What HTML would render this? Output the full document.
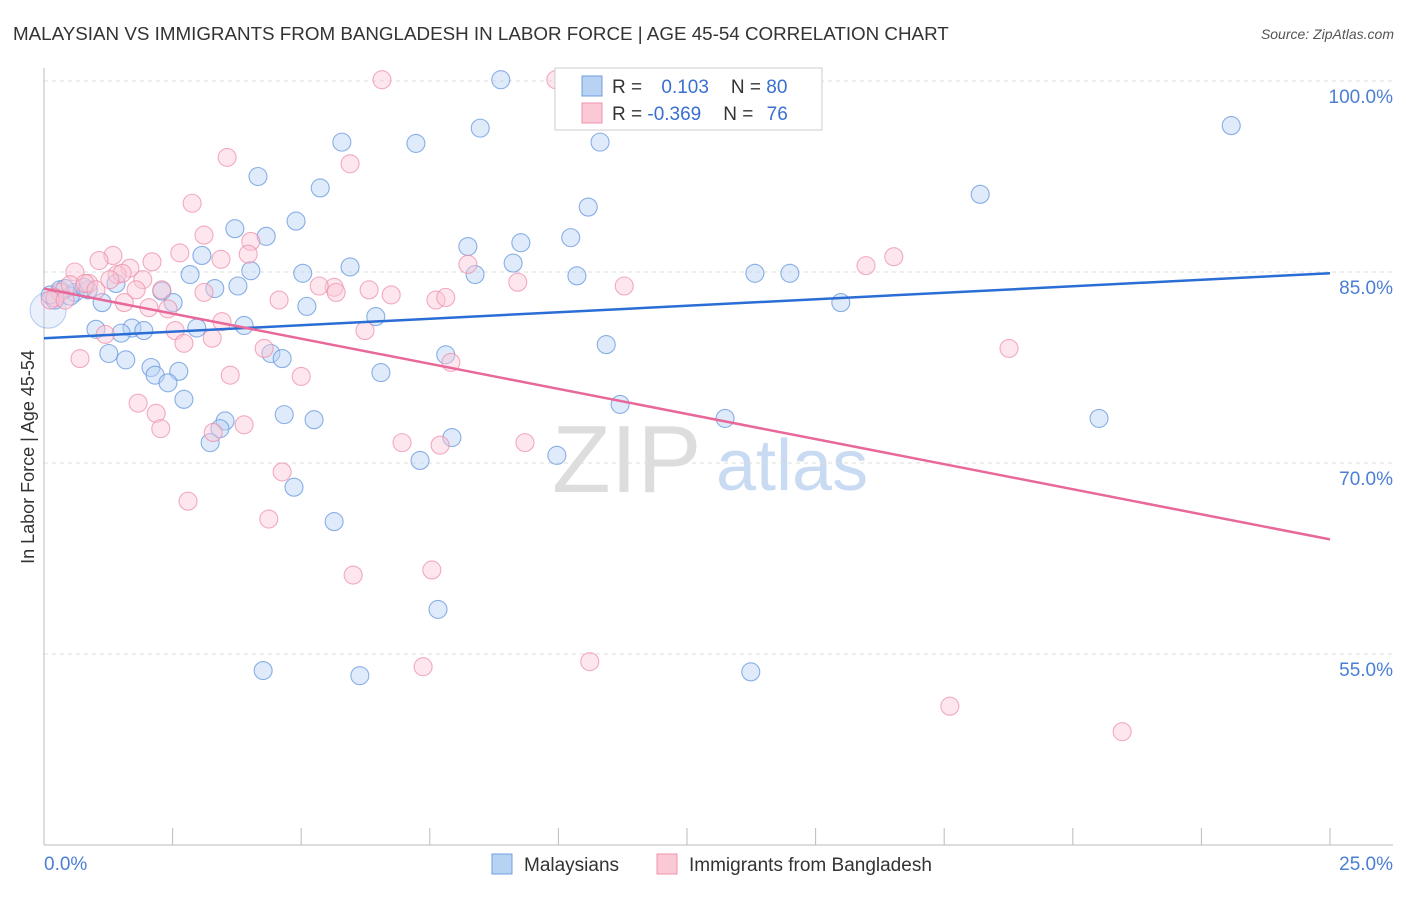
<!DOCTYPE html>
<html><head><meta charset="utf-8"><style>
body{margin:0;background:#fff;font-family:"Liberation Sans",sans-serif}
svg text{font-family:"Liberation Sans",sans-serif}
</style></head><body>
<svg id="c" width="1406" height="892">
<text x="13" y="40" font-size="18.8" fill="#333">MALAYSIAN VS IMMIGRANTS FROM BANGLADESH IN LABOR FORCE | AGE 45-54 CORRELATION CHART</text>
<text x="1394" y="39" font-size="14" fill="#555" font-style="italic" text-anchor="end">Source: ZipAtlas.com</text>
<text transform="translate(34,457) rotate(-90)" font-size="18" fill="#333" text-anchor="middle">In Labor Force | Age 45-54</text>
<g><text x="552" y="492" font-size="96" fill="#ddd" font-family="Liberation Serif">ZIP</text><text x="716" y="490" font-size="72" fill="#c9daf3">atlas</text></g>
<g id="grid"></g><g id="axes"></g><g id="pts"></g><g id="lines"></g>
<g>
<rect x="555" y="68" width="267" height="62" fill="#fff" stroke="#ccc"/>
<rect x="582" y="76" width="20" height="20" fill="#b8d2f4" stroke="#6f9fe0"/>
<rect x="582" y="103" width="20" height="20" fill="#fbc8d6" stroke="#ef93ad"/>
<text x="612" y="93" font-size="19" fill="#333">R = <tspan fill="#3a6fd0" dx="14">0.103</tspan><tspan dx="22" fill="#333">N = </tspan><tspan fill="#3a6fd0">80</tspan></text>
<text x="612" y="120" font-size="19" fill="#333">R = <tspan fill="#3a6fd0">-0.369</tspan><tspan dx="22" fill="#333">N = </tspan><tspan fill="#3a6fd0" dx="8">76</tspan></text>
</g>
<g>
<rect x="492" y="854" width="20" height="20" fill="#b8d2f4" stroke="#6f9fe0"/>
<text x="524" y="871" font-size="19" fill="#333">Malaysians</text>
<rect x="657" y="854" width="20" height="20" fill="#fbc8d6" stroke="#ef93ad"/>
<text x="689" y="871" font-size="19" fill="#333">Immigrants from Bangladesh</text>
</g>
</svg>
<script>
const blueX=[8.88,11.53,8.48,23.08,5.79,7.23,10.81,4.16,5.37,10.58,18.2,4.9,3.71,4.32,10.24,8.24,9.27,3.07,9.12,5.95,2.84,4.02,5.03,8.38,10.36,13.82,14.5,1.4,2.29,3.32,3.77,0.31,0.6,0.86,2.51,1.13,5.11,15.49,6.45,1.01,1.71,1.94,1.5,2.97,3.89,10.93,1.26,4.41,4.63,7.81,1.59,2.08,2.62,2.16,2.41,6.55,2.72,11.2,4.67,5.25,13.24,20.51,3.52,3.42,7.93,3.23,9.97,7.31,4.86,5.64,7.66,4.26,6.14,13.74,0.08,0.21,0.51,0.78,0.41,0.12];
const blueY=[100.1,100.1,96.3,96.5,95.2,95.1,95.2,92.5,91.6,90.1,91.1,89.0,88.4,87.8,87.7,87.0,87.3,86.3,85.7,85.4,84.8,85.1,84.9,84.8,84.7,84.9,84.9,84.1,83.5,83.7,83.9,83.6,83.4,83.6,82.6,82.6,82.3,82.6,81.5,80.5,80.6,80.4,80.2,80.6,80.8,79.3,78.6,78.6,78.2,78.5,78.1,77.5,77.2,76.9,76.3,77.1,75.0,74.6,73.8,73.4,73.5,73.5,73.3,72.7,72.0,71.6,70.6,70.2,68.1,65.4,58.5,53.7,53.3,53.6,82.0,82.8,83.1,83.8,83.7,83.2];
const pinkX=[6.57,9.95,3.56,5.95,2.88,3.11,4.02,3.97,1.34,2.64,1.07,2.1,3.44,0.6,1.67,8.24,15.98,16.52,0.87,1.42,1.92,1.52,9.21,11.28,4.57,5.64,5.35,6.32,6.75,7.62,7.81,3.11,2.29,1.79,1.56,2.04,2.41,2.55,1.19,2.72,3.27,0.7,6.24,4.28,18.76,7.91,3.62,5.0,1.83,2.18,2.27,3.29,3.89,6.96,7.7,9.35,4.63,2.8,4.37,6.01,7.54,7.37,10.61,17.61,20.96,0.31,0.21,0.51,0.8,0.12,0.41,1.01,3.46,5.68,1.28];
const pinkY=[100.1,100.1,94.0,93.5,90.4,87.9,87.4,86.4,86.3,86.5,85.9,85.8,86.0,85.0,85.3,85.6,85.5,86.2,84.1,84.8,84.4,84.9,84.2,83.9,82.8,83.8,83.9,83.6,83.2,82.8,83.0,83.4,83.6,83.6,82.6,82.2,82.1,80.4,80.1,79.4,79.8,78.2,80.4,79.0,79.0,77.9,76.9,76.8,74.7,73.9,72.7,72.4,73.0,71.6,71.4,71.6,69.3,67.0,65.6,61.2,61.6,54.0,54.4,50.9,48.9,83.4,83.0,84.0,84.1,82.8,82.8,83.6,81.1,83.4,84.4];
const trendBlue=[79.8,84.9];   // y at x=0, x=25
const trendPink=[83.7,64.0];
const yTicks=[100,85,70,55];
const yTickLabels=["100.0%","85.0%","70.0%","55.0%"];
const xTickLabels=["0.0%","25.0%"];

const NS="http://www.w3.org/2000/svg";
const sx=v=>44+v/25*1286;
const sy=v=>81+(100-v)/15*191;
function mk(tag,at,parent){const e=document.createElementNS(NS,tag);for(const k in at)e.setAttribute(k,at[k]);document.getElementById(parent).appendChild(e);return e;}
yTicks.forEach((t,i)=>{
  const g=mk('line',{x1:44,x2:1393,y1:sy(t),y2:sy(t),stroke:'#ddd','stroke-dasharray':'4,4'},'grid');
  
  
  const l=mk('text',{x:1393,y:sy(t)+22,'font-size':19,fill:'#4a7fd4','text-anchor':'end'},'grid');
  l.textContent=yTickLabels[i];
  
  
});
let a=mk('line',{x1:44,x2:44,y1:68,y2:845,stroke:'#bbb'},'axes');


a=mk('line',{x1:44,x2:1393,y1:845,y2:845,stroke:'#bbb'},'axes');


for(let i=0;i<=10;i++){const t=mk('line',{x1:sx(i*2.5),x2:sx(i*2.5),y1:828,y2:845,stroke:'#bbb'},'axes');
  
  }
[[0,'start',44],[25,'end',1393]].forEach((d,i)=>{const t=mk('text',{x:d[2],y:870,'font-size':19,fill:'#4a7fd4','text-anchor':d[1]},'axes');t.textContent=xTickLabels[i];
  
  });
function pts(X,Y,fill,stroke,name){X.forEach((x,i)=>{const big=(x<0.1&&Math.abs(Y[i]-82)<0.1);const r=big?18:9;
  const c=mk('circle',{cx:sx(x),cy:sy(Y[i]),r:r,fill:fill,'fill-opacity':big?0.3:0.45,stroke:stroke,'stroke-width':1.1,'stroke-opacity':big?0.4:0.7},'pts');
  
  });}
pts(blueX,blueY,'#b8d2f4','#5b90dc','malaysian-point');
pts(pinkX,pinkY,'#fbc8d6','#ec8aa7','bangladesh-point');
let ln=mk('line',{x1:sx(0),y1:sy(trendBlue[0]),x2:sx(25),y2:sy(trendBlue[1]),stroke:'#2a6dd4','stroke-width':2.5},'lines');


ln=mk('line',{x1:sx(0),y1:sy(trendPink[0]),x2:sx(25),y2:sy(trendPink[1]),stroke:'#e8689a','stroke-width':2.5},'lines');


</script>
</body></html>
